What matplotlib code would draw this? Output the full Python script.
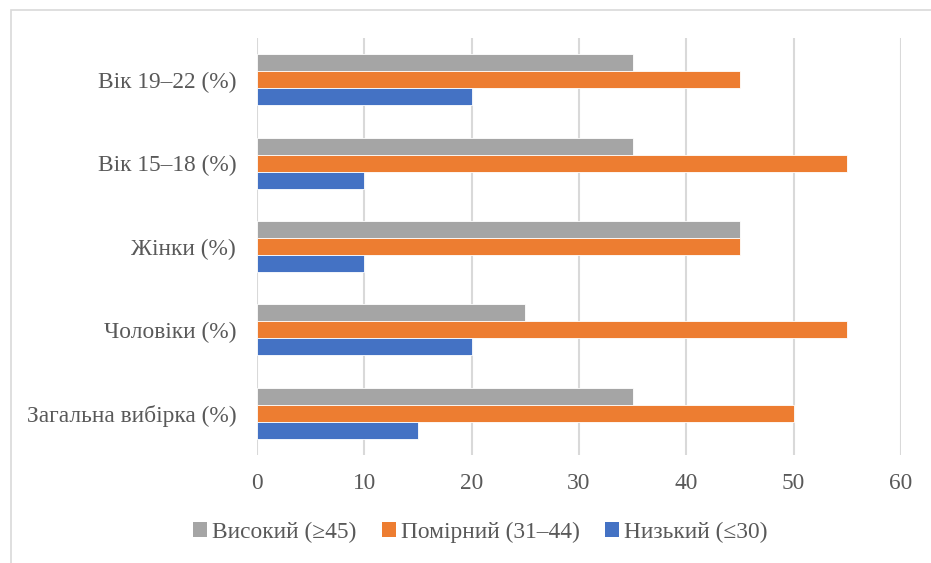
import matplotlib
matplotlib.use("Agg")
import matplotlib.pyplot as plt
from matplotlib.patches import Patch, Rectangle
import numpy as np

categories = ["Загальна вибірка (%)", "Чоловіки (%)", "Жінки (%)", "Вік 15–18 (%)", "Вік 19–22 (%)"]
high = [35, 25, 45, 35, 35]
moderate = [50, 55, 45, 55, 45]
low = [15, 20, 10, 10, 20]
series_names = ["Високий (≥45)", "Помірний (31–44)", "Низький (≤30)"]
xticks = [0, 10, 20, 30, 40, 50, 60]

colors = ["#A5A5A5", "#ED7D31", "#4472C4"]
text_color = "#595959"

plt.rcParams['font.family'] = ['Liberation Serif', 'DejaVu Serif']

fig = plt.figure(figsize=(9.31, 5.63), dpi=100)
ax = fig.add_axes([257/931, 1-455/563, (901-257)/931, (455-38)/563])

# outer chart border (top/left visible)
fig.patches.append(Rectangle((11/931, -0.1), 1.2, 1-10/563+0.1, transform=fig.transFigure,
                             fill=False, edgecolor="#D9D9D9", linewidth=1.2))

y = np.arange(len(categories))
h = 0.204
for vals, off, c in zip([high, moderate, low], [h, 0, -h], colors):
    ax.barh(y + off, vals, height=h, color=c, edgecolor="white", linewidth=0.6, zorder=3)

ax.set_xlim(0, 60)
ax.set_ylim(-0.5, 4.5)
ax.set_xticks(xticks)
ax.set_xticklabels([str(t) for t in xticks])
ax.set_yticks(y)
ax.set_yticklabels(categories)
ax.grid(axis="x", color="#D9D9D9", linewidth=1.5, zorder=0)
for s in ax.spines.values():
    s.set_visible(False)
ax.tick_params(axis="both", length=0, labelsize=16.8, colors=text_color)
ax.tick_params(axis="x", pad=13)
ax.tick_params(axis="y", pad=15)

handles = [Patch(facecolor=c, edgecolor="none") for c in colors]
fig.legend(handles, series_names, loc="center", bbox_to_anchor=(0.516, 0.055), ncol=3,
           frameon=False, fontsize=16.8, handlelength=0.6, handleheight=0.6,
           handletextpad=0.2, columnspacing=1.1, labelcolor=text_color)

fig.savefig("out.png", dpi=100)
